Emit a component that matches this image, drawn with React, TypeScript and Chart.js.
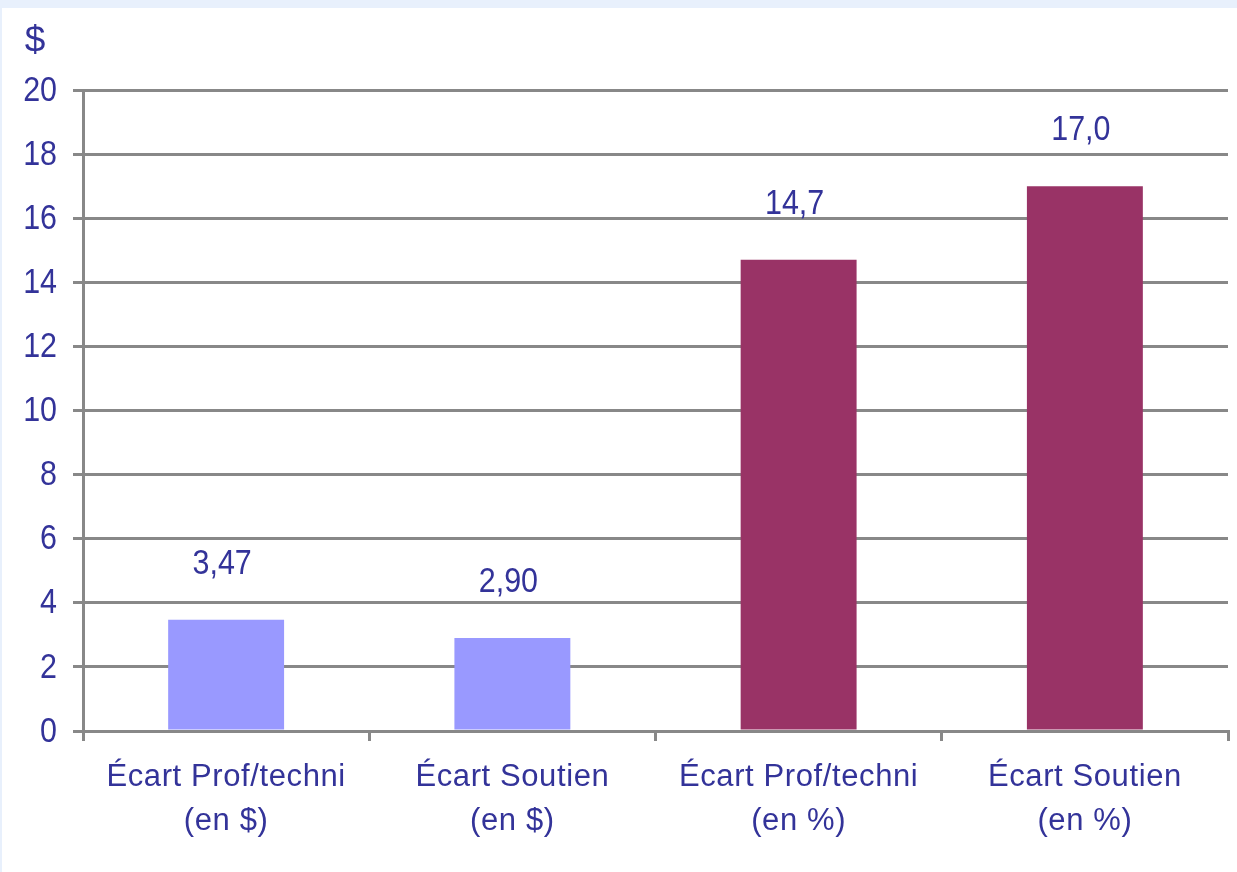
import { useEffect, useRef } from "react";
import { Chart, registerables } from "chart.js";

Chart.register(...registerables);

const CATEGORIES = [
  ["Écart Prof/techni", "(en $)"],
  ["Écart Soutien", "(en $)"],
  ["Écart Prof/techni", "(en %)"],
  ["Écart Soutien", "(en %)"],
];
const VALUES = [3.47, 2.9, 14.7, 17.0];
const DECIMALS = [2, 2, 1, 1];
const BAR_COLORS = ["#9999ff", "#9999ff", "#993366", "#993366"];
const Y_TITLE = "$";

const TEXT = "#333399";
const GRID = "#888888";
const FONT = "'Liberation Sans', Arial, sans-serif";
const NUM_SIZE = 35;
const SQUEEZE = 0.87; // numbers in the original are narrow

// draw a narrow number (x-compressed) at x,y
function narrowText(ctx: CanvasRenderingContext2D, txt: string, x: number, y: number, sq = SQUEEZE) {
  ctx.save();
  ctx.translate(x, y);
  ctx.scale(sq, 1);
  ctx.fillText(txt, 0, 0);
  ctx.restore();
}

const textPlugin = {
  id: "textPlugin",
  beforeDraw(chart: Chart) {
    (chart.ctx as any).letterSpacing = "0.6px";
  },
  afterDraw(chart: Chart) {
    const ctx = chart.ctx;
    const a = chart.chartArea;
    ctx.save();
    (ctx as any).letterSpacing = "0px";
    ctx.fillStyle = TEXT;
    ctx.font = `${NUM_SIZE}px ${FONT}`;

    // value labels above bars
    ctx.textAlign = "center";
    ctx.textBaseline = "alphabetic";
    chart.getDatasetMeta(0).data.forEach((bar: any, i: number) => {
      const txt = VALUES[i].toFixed(DECIMALS[i]).replace(".", ",");
      narrowText(ctx, txt, bar.x - 4, bar.y - 46);
    });

    // y tick labels
    const ys = chart.scales.y;
    ctx.textAlign = "right";
    ctx.textBaseline = "middle";
    ys.ticks.forEach((t: any) => {
      narrowText(ctx, String(t.value), a.left - 26, ys.getPixelForValue(t.value) + 1);
    });

    // unit above the y axis
    ctx.font = `37px ${FONT}`;
    ctx.textAlign = "center";
    narrowText(ctx, Y_TITLE, a.left - 48, a.top - 48, 1);
    ctx.restore();
  },
};

export default function App() {
  const canvasRef = useRef<HTMLCanvasElement | null>(null);
  const chartRef = useRef<Chart | null>(null);

  useEffect(() => {
    document.body.style.margin = "0";
    document.body.style.background = "#e8f0fc";
    if (!canvasRef.current) return;
    chartRef.current?.destroy();
    chartRef.current = new Chart(canvasRef.current, {
      type: "bar",
      data: {
        labels: CATEGORIES,
        datasets: [
          {
            data: VALUES,
            backgroundColor: BAR_COLORS,
            borderWidth: 0,
            categoryPercentage: 1,
            barPercentage: 0.405,
          },
        ],
      },
      options: {
        responsive: false,
        animation: false,
        events: [],
        layout: { padding: { left: 0, right: 9, top: 82, bottom: 0 } },
        plugins: { legend: { display: false }, tooltip: { enabled: false } },
        scales: {
          x: {
            offset: true,
            grid: {
              offset: true,
              drawOnChartArea: false,
              drawTicks: true,
              tickLength: 10,
              color: GRID,
              lineWidth: 3,
            },
            border: { color: GRID, width: 3 },
            ticks: {
              color: TEXT,
              font: { family: FONT, size: 31, lineHeight: "44px" },
              padding: 14,
              maxRotation: 0,
              autoSkip: false,
            },
            afterFit: (s: any) => {
              s.height = 141;
            },
          },
          y: {
            min: 0,
            max: 20,
            grid: { color: GRID, lineWidth: 3, tickLength: 10 },
            border: { color: GRID, width: 3 },
            ticks: {
              stepSize: 2,
              color: "rgba(0,0,0,0)",
              padding: 16,
              font: { family: FONT, size: NUM_SIZE },
            },
            afterFit: (s: any) => {
              s.width = 81;
            },
          },
        },
      },
      plugins: [textPlugin],
    });
    return () => chartRef.current?.destroy();
  }, []);

  return (
    <div style={{ marginTop: 8, marginLeft: 2, width: 1235, height: 864, background: "#ffffff" }}>
      <canvas ref={canvasRef} width={1235} height={864} style={{ display: "block" }} />
    </div>
  );
}
